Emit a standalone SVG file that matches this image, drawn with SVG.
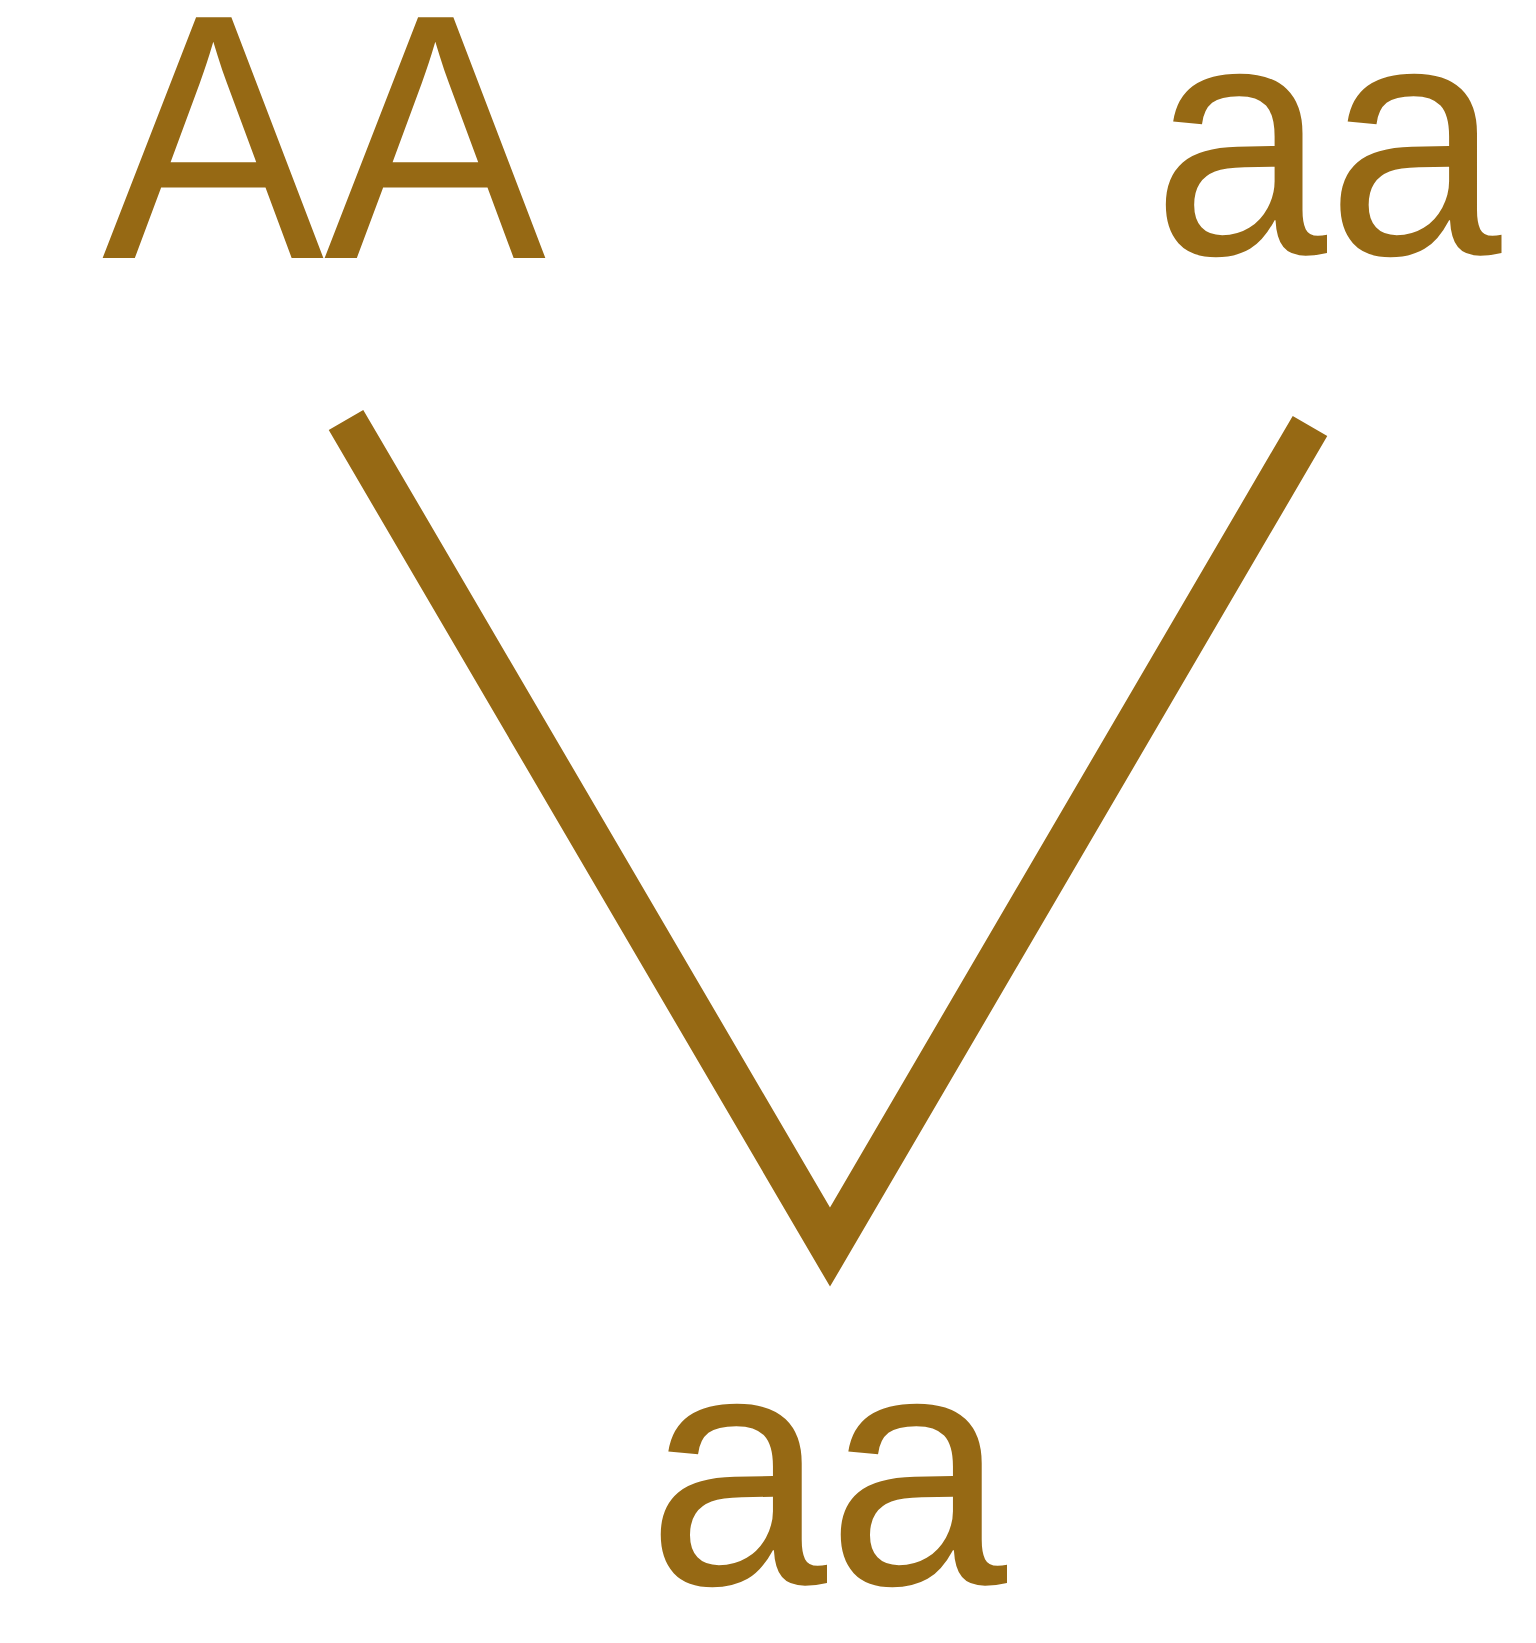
<svg xmlns="http://www.w3.org/2000/svg" width="1536" height="1643" viewBox="0 0 1536 1643">
<style>
.lbl{font-family:"Liberation Sans",Arial,sans-serif;font-size:335px;fill:#966914;text-anchor:middle}
.edge{fill:none;stroke:#966914;stroke-width:40;stroke-linejoin:miter;stroke-miterlimit:10;stroke-linecap:butt}
</style>
<rect width="1536" height="1643" fill="#ffffff"/>
<g id="connectors">
<polyline class="edge" points="346,420 830,1247 1310,426"/>
</g>
<g id="node-AA"><text class="lbl" x="324" y="258" style="font-size:350px" textLength="444" lengthAdjust="spacingAndGlyphs">AA</text></g>
<g id="node-aa-parent"><text class="lbl" x="1327" y="254" textLength="349" lengthAdjust="spacingAndGlyphs">aa</text></g>
<g id="node-aa-child"><text class="lbl" x="827" y="1584" textLength="360" lengthAdjust="spacingAndGlyphs">aa</text></g>
</svg>
